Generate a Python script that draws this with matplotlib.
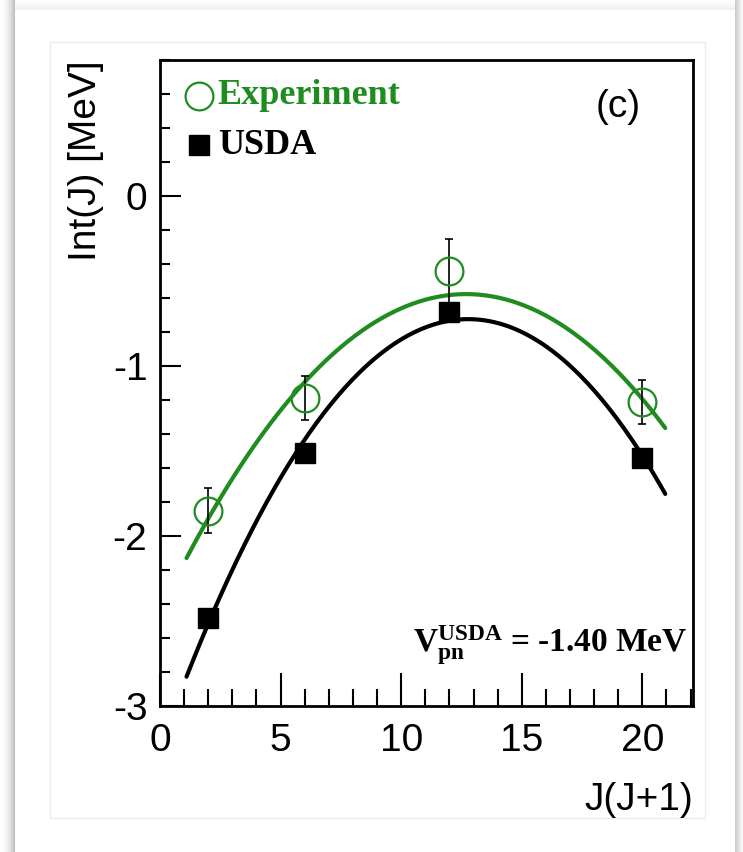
import numpy as np
import matplotlib
matplotlib.use('Agg')
import matplotlib.pyplot as plt
from matplotlib.patches import Rectangle
from matplotlib.ticker import MultipleLocator

plt.rcParams['axes.unicode_minus'] = False
plt.rcParams['mathtext.fontset'] = 'custom'
plt.rcParams['mathtext.rm'] = 'Liberation Serif:bold'
plt.rcParams['mathtext.bf'] = 'Liberation Serif:bold'
plt.rcParams['mathtext.it'] = 'Liberation Serif:bold'

# データ (J(J+1) に対する Int(J))
jj = [2, 6, 12, 20]
exp_val = [-1.85, -1.19, -0.44, -1.21]
exp_err = [0.135, 0.13, 0.19, 0.13]
usda_val = [-2.48, -1.51, -0.68, -1.54]

green = '#1e8c1e'
W, H = 743, 852

fig = plt.figure(figsize=(W / 100, H / 100), dpi=100)

# 背景の枠と影
bg = fig.add_axes([0, 0, 1, 1])
bg.set_xlim(0, W)
bg.set_ylim(H, 0)
bg.axis('off')
for i in range(15):
    g = 1 - 0.25 * (i / 14) ** 2
    bg.add_patch(Rectangle((i, 0), 1, H, color=(g, g, g), lw=0))
for i in range(8):
    g = 1 - 0.2 * (1 - i / 8)
    bg.add_patch(Rectangle((735 + i, 0), 1, H, color=(g, g, g), lw=0))
for i in range(10):
    g = 1 - 0.06 * (i / 9)
    bg.add_patch(Rectangle((15, i), 720, 1, color=(g, g, g), lw=0))
bg.add_patch(Rectangle((50, 42), 655, 776, fill=False, ec='#ececec', lw=1))

# メインのグラフ
ax = fig.add_axes([160 / W, 1 - 706 / H, 533 / W, (706 - 60) / H])
ax.set_xlim(0, 22.1)
ax.set_ylim(-3, 0.8)

# 二次関数フィット
xs = np.linspace(1.1, 20.95, 200)
cg = np.polyfit(jj, exp_val, 2, w=1 / np.array(exp_err))
cb = np.polyfit(jj, usda_val, 2)
ax.plot(xs, np.polyval(cg, xs), color=green, lw=3, solid_capstyle='round', zorder=2)
ax.plot(xs, np.polyval(cb, xs), color='black', lw=3, solid_capstyle='round', zorder=2)

ax.errorbar(jj, exp_val, yerr=exp_err, fmt='none', ecolor='black', elinewidth=1.2,
            capsize=3, capthick=1.2, zorder=3)
ax.plot(jj, exp_val, 'o', ms=20, mfc='none', mec=green, mew=1.6, zorder=4)
ax.plot(jj, usda_val, 's', ms=14, color='black', zorder=4)

# 軸の体裁
for s in ax.spines.values():
    s.set_linewidth(2)
ax.xaxis.set_major_locator(MultipleLocator(5))
ax.xaxis.set_minor_locator(MultipleLocator(1))
ax.yaxis.set_major_locator(MultipleLocator(1))
ax.yaxis.set_minor_locator(MultipleLocator(0.2))
ax.tick_params(axis='x', which='major', direction='in', length=24, width=1.5, pad=12,
               labelsize=28, top=False)
ax.tick_params(axis='x', which='minor', direction='in', length=12, width=1.5, top=False)
ax.tick_params(axis='y', which='major', direction='in', length=15, width=1.5, pad=9,
               labelsize=28, right=False)
ax.tick_params(axis='y', which='minor', direction='in', length=7.5, width=1.5, right=False)
for lab in ax.get_xticklabels() + ax.get_yticklabels():
    lab.set_fontfamily('Liberation Sans')

ax.set_xlabel('J(J+1)', fontsize=28, family='Liberation Sans', ha='right', x=1.0)
ax.xaxis.set_label_coords(1.0, -0.118)
ax.set_ylabel('Int(J) [MeV]', fontsize=28, family='Liberation Sans', ha='right', y=1.0)
ax.yaxis.set_label_coords(-0.105, 1.0)

# 凡例
ax.plot([1.6], [0.59], 'o', ms=20, mfc='none', mec=green, mew=1.6, clip_on=False)
ax.text(2.4, 0.59, 'Experiment', color=green, fontsize=26, fontweight='bold',
        family='Liberation Serif', va='center')
ax.plot([1.6], [0.30], 's', ms=14, color='black')
ax.text(2.4, 0.30, 'USDA', color='black', fontsize=26, fontweight='bold',
        family='Liberation Serif', va='center')
ax.text(0.86, 0.928, '(c)', transform=ax.transAxes, fontsize=28,
        family='Liberation Sans', ha='center', va='center')
ax.text(0.99, 0.083, r'$\mathbf{V_{pn}^{USDA}}$ = -1.40 MeV', transform=ax.transAxes,
        fontsize=24, fontweight='bold', family='Liberation Serif', ha='right', va='baseline')

fig.savefig('out.png', dpi=100)
